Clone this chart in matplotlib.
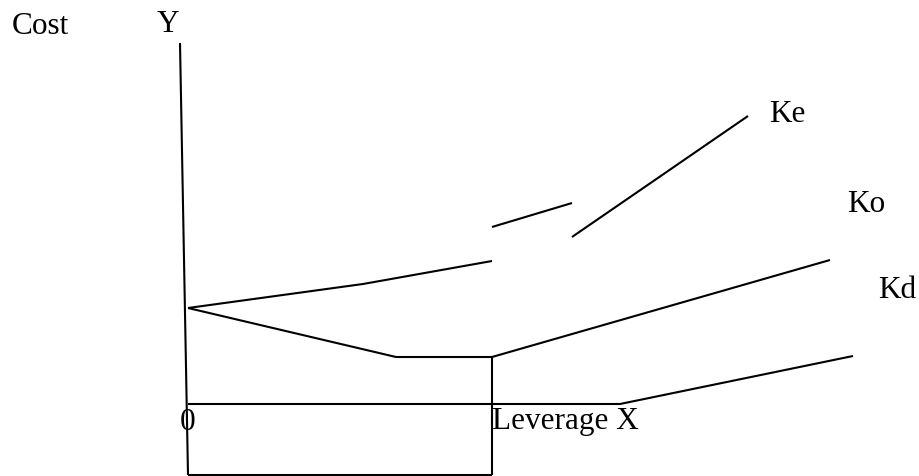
import matplotlib
matplotlib.use("Agg")
import matplotlib.pyplot as plt

plt.rcParams['font.family'] = ['Liberation Serif', 'DejaVu Serif']

# Axes (hand-drawn)
y_axis_x = [-8, 0]
y_axis_y = [361, -71]
base_x = [0, 304]
base_y = [-71, -71]
vline_x = [304, 304]
vline_y = [-71, 47]

# Kd (cost of debt): flat then rising
kd_x = [0, 432, 665]
kd_y = [0, 0, 48]

# Ko (overall cost of capital)
ko_x = [0, 208, 304, 642]
ko_y = [96, 47, 47, 144]

# Ke (cost of equity), drawn in three pieces
ke1_x = [0, 175, 304]
ke1_y = [96, 120, 143]
ke2_x = [304, 384]
ke2_y = [177, 201]
ke3_x = [384, 560]
ke3_y = [167, 288]

fig = plt.figure(figsize=(9.19, 4.76), dpi=100)
ax = fig.add_axes([0, 0, 1, 1])
ax.set_xlim(-188, 731)
ax.set_ylim(-72, 404)
ax.axis('off')

lw = 1.5
for xs, ys in [(y_axis_x, y_axis_y), (base_x, base_y), (vline_x, vline_y),
               (kd_x, kd_y), (ko_x, ko_y), (ke1_x, ke1_y), (ke2_x, ke2_y), (ke3_x, ke3_y)]:
    ax.plot(xs, ys, color='black', lw=lw, solid_capstyle='butt')

fs = 22.5
ax.text(-176, 378, 'Cost', fontsize=fs, va='center', ha='left')
ax.text(-20, 379, 'Y', fontsize=fs, va='center', ha='center')
ax.text(581, 289, 'Ke', fontsize=fs, va='center', ha='left')
ax.text(659, 200, 'Ko', fontsize=fs, va='center', ha='left')
ax.text(690, 114, 'Kd', fontsize=fs, va='center', ha='left')
ax.text(0, -18, '0', fontsize=fs, va='center', ha='center')
ax.text(304, -18, 'Leverage X', fontsize=fs, va='center', ha='left')

fig.savefig('out.png', dpi=100)
